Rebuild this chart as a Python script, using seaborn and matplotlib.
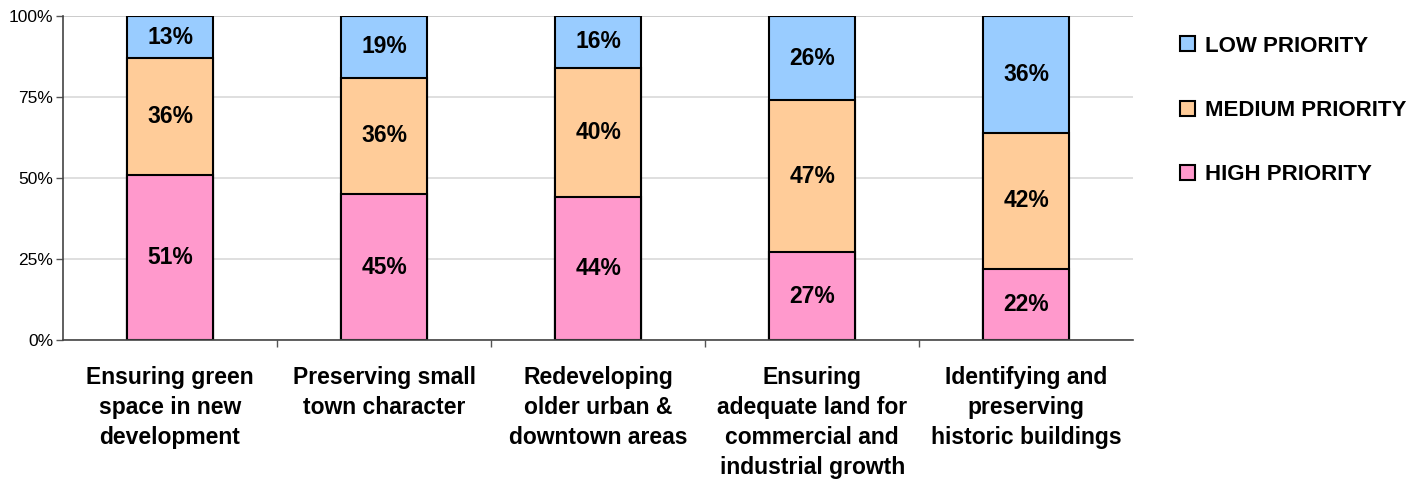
import matplotlib
matplotlib.use("Agg")
import matplotlib.pyplot as plt
import seaborn as sns
import pandas as pd
import numpy as np
from matplotlib.patches import Patch
from matplotlib.ticker import FixedLocator

categories = [
    "Ensuring green\nspace in new\ndevelopment",
    "Preserving small\ntown character",
    "Redeveloping\nolder urban &\ndowntown areas",
    "Ensuring\nadequate land for\ncommercial and\nindustrial growth",
    "Identifying and\npreserving\nhistoric buildings",
]
high = [51, 45, 44, 27, 22]
medium = [36, 36, 40, 47, 42]
low = [13, 19, 16, 26, 36]

series_names = ["LOW PRIORITY", "MEDIUM PRIORITY", "HIGH PRIORITY"]
colors = {"HIGH PRIORITY": "#FF99CC", "MEDIUM PRIORITY": "#FFCC99", "LOW PRIORITY": "#99CCFF"}

sns.set_style("white")
plt.rcParams["font.family"] = ["Liberation Sans", "DejaVu Sans"]
plt.rcParams["text.color"] = "black"
plt.rcParams["xtick.color"] = "black"
plt.rcParams["ytick.color"] = "black"

df = pd.DataFrame({"cat": categories, "high": high, "medium": medium, "low": low})
df["hm"] = df["high"] + df["medium"]
df["total"] = df["hm"] + df["low"]

fig, ax = plt.subplots(figsize=(14.22, 4.87), dpi=100)
fig.subplots_adjust(left=0.0443, right=0.797, top=0.967, bottom=0.302)

# stacked bars: draw cumulative totals back to front
layers = [("total", "low", "LOW PRIORITY"),
          ("hm", "medium", "MEDIUM PRIORITY"),
          ("high", "high", "HIGH PRIORITY")]
for cum_col, seg_col, name in layers:
    sns.barplot(data=df, x="cat", y=cum_col, color=colors[name], width=0.4,
                edgecolor="black", linewidth=1.5, saturation=1, ax=ax)
    cont = ax.containers[-1]
    for bar, cum, seg in zip(cont, df[cum_col], df[seg_col]):
        ax.text(bar.get_x() + bar.get_width() / 2, cum - seg / 2, f"{seg}%",
                ha="center", va="center", fontsize=16.5, fontweight="bold", color="black")

ax.set_ylim(0, 100)
ax.set_xlim(-0.5, len(categories) - 0.5)
ax.set_yticks([0, 25, 50, 75, 100])
ax.set_yticklabels(["0%", "25%", "50%", "75%", "100%"], fontsize=12.5)
ax.set_xticks(range(len(categories)))
ax.set_xticklabels(categories, fontsize=16.5, fontweight="bold", linespacing=1.38)
ax.tick_params(axis="x", length=0, pad=19)
ax.tick_params(axis="y", length=5, width=1, color="#555555", direction="out", left=True, pad=2)
ax.xaxis.set_minor_locator(FixedLocator(np.arange(0.5, len(categories) - 0.5, 1)))
ax.tick_params(axis="x", which="minor", length=5, width=1, color="#555555", bottom=True)
ax.set_xlabel("")
ax.set_ylabel("")

ax.yaxis.grid(True, color="#d9d9d9", linewidth=1.2)
ax.set_axisbelow(True)
for side in ["top", "right"]:
    ax.spines[side].set_visible(False)
for side in ["left", "bottom"]:
    ax.spines[side].set_color("#444444")
    ax.spines[side].set_linewidth(1.2)
ax.axhline(100, color="#777777", linewidth=1.2, zorder=0)

handles = [Patch(facecolor=colors[n], edgecolor="black", linewidth=1.5) for n in series_names]
fig.legend(handles, series_names, loc="upper left", bbox_to_anchor=(0.816, 0.968),
           frameon=False, prop={"weight": "bold", "size": 16}, labelspacing=1.95,
           handlelength=0.65, handleheight=0.65, handletextpad=0.45)

fig.savefig("out.png", dpi=100)
